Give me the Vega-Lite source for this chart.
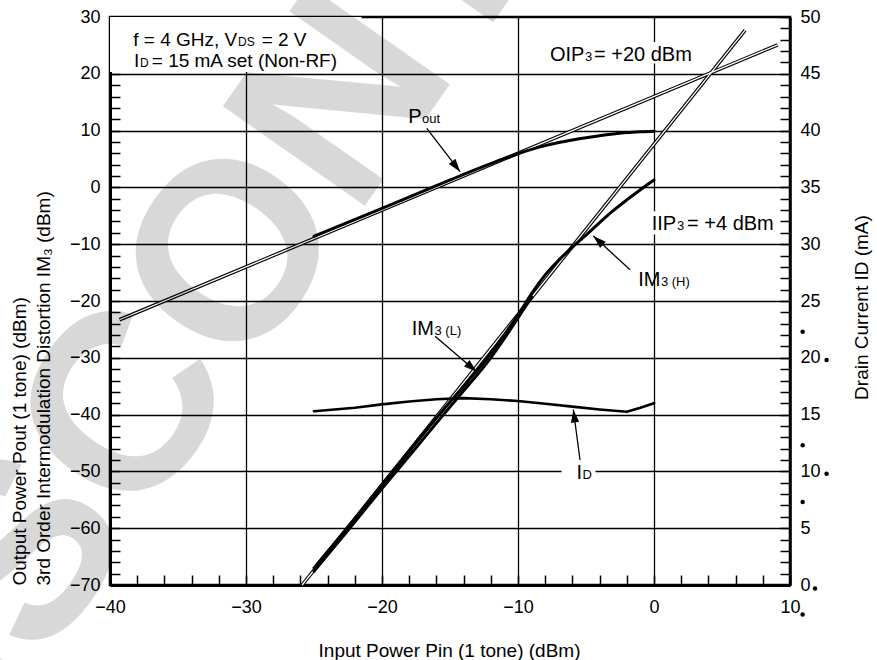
{
  "$schema": "https://vega.github.io/schema/vega-lite/v6.json",
  "width": 680,
  "height": 568,
  "autosize": {"type": "none"},
  "padding": {"left": 110, "top": 17, "right": 87, "bottom": 75},
  "config": {
    "font": "Liberation Sans",
    "view": {"stroke": "black", "strokeWidth": 2.5},
    "text": {"font": "Liberation Sans", "color": "black"}
  },
  "datasets": {
    "watermark": [{"t": "DISCONTINUED", "x": -19.76, "y": 25.23}],
    "boxes": [
      {"name": "cond", "x": -40, "x2": -21.5, "y": 20.3, "y2": 30},
      {"name": "oip", "x": -7.8, "x2": 3.1, "y": 21.8, "y2": 25.6},
      {"name": "iip", "x": -0.45, "x2": 9.2, "y": -8.3, "y2": -4.2},
      {"name": "id", "x": -6.8, "x2": -4.3, "y": -52, "y2": -48.8}
    ],
    "fits": [
      {"line": "pout", "x": -39.3, "y": -23.3},
      {"line": "pout", "x": 9.1, "y": 25.1},
      {"line": "im3", "x": -25.87, "y": -70},
      {"line": "im3", "x": 6.7, "y": 27.7}
    ],
    "curves": [
      {"c": "pout", "x": -25, "y": -8.6}, {"c": "pout", "x": -20, "y": -3.7}, {"c": "pout", "x": -16, "y": 0.3},
      {"c": "pout", "x": -14, "y": 2.3}, {"c": "pout", "x": -12, "y": 4.2}, {"c": "pout", "x": -11, "y": 5.1},
      {"c": "pout", "x": -10, "y": 5.95}, {"c": "pout", "x": -9, "y": 6.7}, {"c": "pout", "x": -8, "y": 7.35},
      {"c": "pout", "x": -7, "y": 7.9}, {"c": "pout", "x": -6, "y": 8.35}, {"c": "pout", "x": -5, "y": 8.75},
      {"c": "pout", "x": -4, "y": 9.1}, {"c": "pout", "x": -3, "y": 9.4}, {"c": "pout", "x": -2, "y": 9.65},
      {"c": "pout", "x": -1, "y": 9.8}, {"c": "pout", "x": 0, "y": 9.9},
      {"c": "im3h", "x": -25, "y": -67}, {"c": "im3h", "x": -22, "y": -58.3}, {"c": "im3h", "x": -20, "y": -52.3},
      {"c": "im3h", "x": -18, "y": -46.4}, {"c": "im3h", "x": -16, "y": -40.6}, {"c": "im3h", "x": -14, "y": -35},
      {"c": "im3h", "x": -13, "y": -32.2}, {"c": "im3h", "x": -12, "y": -29.2}, {"c": "im3h", "x": -11, "y": -25.9},
      {"c": "im3h", "x": -10, "y": -22.5}, {"c": "im3h", "x": -9, "y": -18.7}, {"c": "im3h", "x": -8, "y": -15.4},
      {"c": "im3h", "x": -7, "y": -12.8}, {"c": "im3h", "x": -6, "y": -10.5}, {"c": "im3h", "x": -5, "y": -8.4},
      {"c": "im3h", "x": -4, "y": -6.2}, {"c": "im3h", "x": -3, "y": -4.1}, {"c": "im3h", "x": -2, "y": -2.2},
      {"c": "im3h", "x": -1, "y": -0.4}, {"c": "im3h", "x": 0, "y": 1.3},
      {"c": "im3l", "x": -25, "y": -67.6}, {"c": "im3l", "x": -22, "y": -58.9}, {"c": "im3l", "x": -20, "y": -53},
      {"c": "im3l", "x": -18, "y": -47.3}, {"c": "im3l", "x": -16, "y": -41.5}, {"c": "im3l", "x": -14, "y": -35.8},
      {"c": "im3l", "x": -13, "y": -33}, {"c": "im3l", "x": -12, "y": -30}, {"c": "im3l", "x": -11, "y": -26.6},
      {"c": "im3l", "x": -10, "y": -23}, {"c": "im3l", "x": -9, "y": -19.3}
    ],
    "idcurve": [
      {"x": -25, "id": 15.3}, {"x": -22, "id": 15.6}, {"x": -20, "id": 15.9}, {"x": -18, "id": 16.15},
      {"x": -16, "id": 16.35}, {"x": -14, "id": 16.45}, {"x": -12, "id": 16.35}, {"x": -10, "id": 16.2},
      {"x": -8, "id": 15.95}, {"x": -6, "id": 15.7}, {"x": -4, "id": 15.45}, {"x": -2, "id": 15.25},
      {"x": -1, "id": 15.6}, {"x": 0, "id": 16.0}
    ],
    "arrows": [
      {"name": "pout", "x": -14.26, "y": 2.77, "x2": -16.71, "y2": 10.4},
      {"name": "im3h", "x": -4.46, "y": -8.56, "x2": -1.76, "y2": -14.5},
      {"name": "im3l", "x": -13.04, "y": -32.45, "x2": -16.1, "y2": -26.2},
      {"name": "id", "x": -5.93, "y": -39.1, "x2": -5.44, "y2": -48.0}
    ],
    "boxText": [
      {"t": "f = 4 GHz, V", "x": -38.29, "y": 24.89},
      {"t": "= 2 V", "x": -28.85, "y": 24.89},
      {"t": "I", "x": -38.24, "y": 21.14},
      {"t": "= 15 mA set (Non-RF)", "x": -36.93, "y": 21.14}
    ],
    "boxSub": [
      {"t": "DS", "x": -30.59, "y": 24.89},
      {"t": "D", "x": -37.79, "y": 21.14}
    ],
    "mainText": [
      {"t": "OIP", "x": -7.65, "y": 22.25},
      {"t": "= +20 dBm", "x": -4.41, "y": 22.25},
      {"t": "IIP", "x": -0.17, "y": -7.5},
      {"t": "= +4 dBm", "x": 2.43, "y": -7.5},
      {"t": "P", "x": -18.07, "y": 11.29},
      {"t": "IM", "x": -1.16, "y": -17.36},
      {"t": "IM", "x": -17.82, "y": -25.99},
      {"t": "I", "x": -5.69, "y": -51.34}
    ],
    "subText": [
      {"t": "3", "x": -5.07, "y": 22.25},
      {"t": "3", "x": 1.69, "y": -7.5},
      {"t": "out", "x": -17.06, "y": 11.29},
      {"t": "3 (H)", "x": 0.51, "y": -17.36},
      {"t": "3 (L)", "x": -16.14, "y": -25.99},
      {"t": "D", "x": -5.26, "y": -51.34}
    ],
    "dots": [
      {"x": 10.93, "y": -25.4}, {"x": 10.93, "y": -45.4}, {"x": 10.93, "y": -55.4}, {"x": 10.93, "y": -75.2},
      {"x": 12.69, "y": -30.4}, {"x": 12.69, "y": -50.4}, {"x": 11.84, "y": -70.6}
    ]
  },
  "layer": [
    {
      "encoding": {
        "x": {
          "field": "x", "type": "quantitative",
          "scale": {"domain": [-40, 10], "nice": false, "zero": false},
          "axis": {
            "values": [-40,-38,-36,-34,-32,-30,-28,-26,-24,-22,-20,-18,-16,-14,-12,-10,-8,-6,-4,-2,0,2,4,6,8,10],
            "labelExpr": "datum.value % 10 === 0 ? datum.label : ''",
            "grid": true, "gridColor": "black", "gridWidth": 1.3,
            "gridOpacity": {"condition": {"test": "datum.value % 10 === 0 && datum.value > -40 && datum.value < 10", "value": 1}, "value": 0},
            "tickSize": -10, "tickWidth": 1.5, "tickColor": "black",
            "domain": true, "domainWidth": 3, "domainColor": "black",
            "labelFontSize": 18, "labelColor": "black", "labelPadding": 23,
            "labelFlush": false, "labelOverlap": false, "labelBound": false,
            "labelFont": "Liberation Sans",
            "title": "Input Power  Pin (1 tone) (dBm)",
            "titleFont": "Liberation Sans", "titleFontSize": 19, "titleFontWeight": "normal", "titleColor": "black",
            "titleX": 339, "titleY": 71, "titleAlign": "center", "titleBaseline": "alphabetic"
          }
        },
        "y": {
          "field": "y", "type": "quantitative",
          "scale": {"domain": [-70, 30], "nice": false, "zero": false},
          "axis": {
            "orient": "left",
            "values": [-70,-68,-66,-64,-62,-60,-58,-56,-54,-52,-50,-48,-46,-44,-42,-40,-38,-36,-34,-32,-30,-28,-26,-24,-22,-20,-18,-16,-14,-12,-10,-8,-6,-4,-2,0,2,4,6,8,10,12,14,16,18,20,22,24,26,28,30],
            "labelExpr": "datum.value % 10 === 0 ? datum.label : ''",
            "grid": true, "gridColor": "black", "gridWidth": 1.3,
            "gridOpacity": {"condition": {"test": "datum.value % 10 === 0 && datum.value > -70 && datum.value < 30", "value": 1}, "value": 0},
            "tickSize": -10, "tickWidth": 1.5, "tickColor": "black",
            "domain": true, "domainWidth": 3, "domainColor": "black",
            "labelFontSize": 18, "labelColor": "black", "labelPadding": 20,
            "labelFlush": false, "labelOverlap": false, "labelBound": false,
            "labelFont": "Liberation Sans",
            "title": ["Output Power  Pout (1 tone) (dBm)", "3rd Order Intermodulation Distortion  IM₃ (dBm)"],
            "titleFont": "Liberation Sans", "titleFontSize": 19, "titleFontWeight": "normal", "titleColor": "black",
            "titleAngle": 270, "titleX": -100, "titleY": 568, "titleAlign": "left", "titleBaseline": "top",
            "titleLineHeight": 24
          }
        }
      },
      "layer": [
        {
          "data": {"name": "boxes"},
          "mark": {"type": "rect", "fill": "white", "strokeWidth": 0},
          "encoding": {"x2": {"field": "x2"}, "y2": {"field": "y2"}}
        },
        {
          "data": {"name": "fits"},
          "mark": {"type": "line", "color": "black", "strokeWidth": 3.6},
          "encoding": {"detail": {"field": "line"}}
        },
        {
          "data": {"name": "fits"},
          "mark": {"type": "line", "color": "white", "strokeWidth": 1.3},
          "encoding": {"detail": {"field": "line"}}
        },
        {
          "data": {"name": "curves"},
          "mark": {"type": "line", "color": "black", "strokeWidth": 3, "interpolate": "monotone", "strokeCap": "round"},
          "encoding": {"detail": {"field": "c"}}
        },
        {
          "data": {"name": "arrows"},
          "mark": {"type": "rule", "color": "black", "strokeWidth": 1.3},
          "encoding": {"x2": {"field": "x2"}, "y2": {"field": "y2"}}
        },
        {
          "data": {"name": "arrows"},
          "transform": [{"filter": "datum.name === 'pout'"}],
          "mark": {"type": "point", "shape": "M0,0L0.32,1L-0.32,1Z", "filled": true, "color": "black", "opacity": 1, "size": 676, "angle": 142.5}
        },
        {
          "data": {"name": "arrows"},
          "transform": [{"filter": "datum.name === 'im3h'"}],
          "mark": {"type": "point", "shape": "M0,0L0.32,1L-0.32,1Z", "filled": true, "color": "black", "opacity": 1, "size": 676, "angle": 312.8}
        },
        {
          "data": {"name": "arrows"},
          "transform": [{"filter": "datum.name === 'im3l'"}],
          "mark": {"type": "point", "shape": "M0,0L0.32,1L-0.32,1Z", "filled": true, "color": "black", "opacity": 1, "size": 676, "angle": 130.6}
        },
        {
          "data": {"name": "arrows"},
          "transform": [{"filter": "datum.name === 'id'"}],
          "mark": {"type": "point", "shape": "M0,0L0.32,1L-0.32,1Z", "filled": true, "color": "black", "opacity": 1, "size": 676, "angle": 352.5}
        },
        {
          "data": {"name": "boxText"},
          "mark": {"type": "text", "align": "left", "baseline": "alphabetic", "fontSize": 19, "font": "Liberation Sans", "color": "black"},
          "encoding": {"text": {"field": "t"}}
        },
        {
          "data": {"name": "boxSub"},
          "mark": {"type": "text", "align": "left", "baseline": "alphabetic", "fontSize": 12, "font": "Liberation Sans", "color": "black"},
          "encoding": {"text": {"field": "t"}}
        },
        {
          "data": {"name": "mainText"},
          "mark": {"type": "text", "align": "left", "baseline": "alphabetic", "fontSize": 20, "font": "Liberation Sans", "color": "black"},
          "encoding": {"text": {"field": "t"}}
        },
        {
          "data": {"name": "subText"},
          "mark": {"type": "text", "align": "left", "baseline": "alphabetic", "fontSize": 13, "font": "Liberation Sans", "color": "black"},
          "encoding": {"text": {"field": "t"}}
        },
        {
          "data": {"name": "dots"},
          "mark": {"type": "circle", "color": "black", "opacity": 1, "size": 20}
        },
        {
          "data": {"name": "watermark"},
          "mark": {"type": "text", "align": "center", "baseline": "middle", "fontSize": 252, "fontWeight": "bold", "font": "Liberation Sans", "color": "black", "opacity": 0.15, "angle": 305},
          "encoding": {"text": {"field": "t"}}
        }
      ]
    },
    {
      "data": {"name": "idcurve"},
      "mark": {"type": "line", "color": "black", "strokeWidth": 2.6, "strokeCap": "round"},
      "encoding": {
        "x": {
          "field": "x", "type": "quantitative",
          "scale": {"domain": [-40, 10], "nice": false, "zero": false},
          "axis": {
            "values": [-40,-38,-36,-34,-32,-30,-28,-26,-24,-22,-20,-18,-16,-14,-12,-10,-8,-6,-4,-2,0,2,4,6,8,10],
            "labelExpr": "datum.value % 10 === 0 ? datum.label : ''",
            "grid": true, "gridColor": "black", "gridWidth": 1.3,
            "gridOpacity": {"condition": {"test": "datum.value % 10 === 0 && datum.value > -40 && datum.value < 10", "value": 1}, "value": 0},
            "tickSize": -10, "tickWidth": 1.5, "tickColor": "black",
            "domain": true, "domainWidth": 3, "domainColor": "black",
            "labelFontSize": 18, "labelColor": "black", "labelPadding": 23,
            "labelFlush": false, "labelOverlap": false, "labelBound": false,
            "labelFont": "Liberation Sans",
            "title": "Input Power  Pin (1 tone) (dBm)",
            "titleFont": "Liberation Sans", "titleFontSize": 19, "titleFontWeight": "normal", "titleColor": "black",
            "titleX": 339, "titleY": 71, "titleAlign": "center", "titleBaseline": "alphabetic"
          }
        },
        "y": {
          "field": "id", "type": "quantitative",
          "scale": {"domain": [0, 50], "nice": false, "zero": false},
          "axis": {
            "orient": "right",
            "values": [0,1,2,3,4,5,6,7,8,9,10,11,12,13,14,15,16,17,18,19,20,21,22,23,24,25,26,27,28,29,30,31,32,33,34,35,36,37,38,39,40,41,42,43,44,45,46,47,48,49,50],
            "labelExpr": "datum.value % 5 === 0 ? datum.label : ''",
            "grid": false,
            "tickSize": -10, "tickWidth": 1.5, "tickColor": "black",
            "domain": true, "domainWidth": 2.5, "domainColor": "black",
            "labelFontSize": 18, "labelColor": "black", "labelPadding": 20,
            "labelFlush": false, "labelOverlap": false, "labelBound": false,
            "labelFont": "Liberation Sans",
            "title": "Drain Current  ID (mA)",
            "titleFont": "Liberation Sans", "titleFontSize": 19, "titleFontWeight": "normal", "titleColor": "black",
            "titleAngle": 270, "titleX": 62, "titleY": 290, "titleAlign": "center", "titleBaseline": "top"
          }
        }
      }
    }
  ],
  "resolve": {"scale": {"y": "independent"}}
}
